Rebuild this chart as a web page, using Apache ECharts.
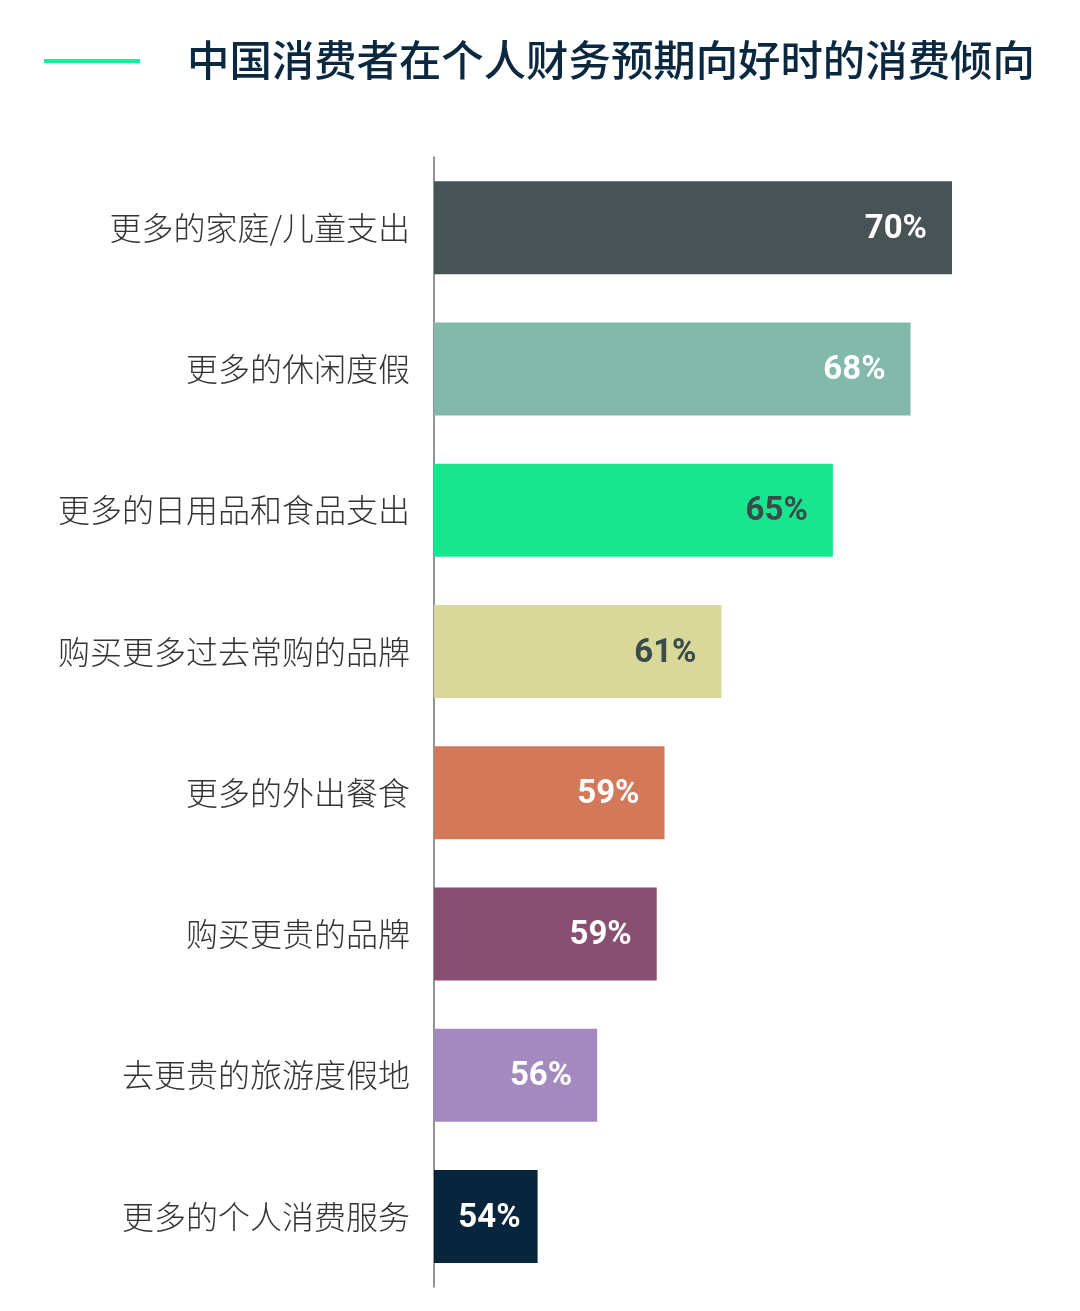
<!DOCTYPE html>
<html>
<head>
<meta charset="utf-8">
<script src="https://cdn.jsdelivr.net/npm/echarts@6/dist/echarts.min.js"></script>
<style>
  html, body { margin: 0; padding: 0; background: #fff; }
  #chart { width: 1080px; height: 1311px; }
</style>
</head>
<body>
<div id="chart"></div>
<script>
// 类别（从上到下）
var categories = ['更多的家庭/儿童支出', '更多的休闲度假', '更多的日用品和食品支出', '购买更多过去常购的品牌',
  '更多的外出餐食', '购买更贵的品牌', '去更贵的旅游度假地', '更多的个人消费服务'];
// 数值（%）
var values = [70, 68.4, 65.4, 61.1, 58.9, 58.6, 56.3, 54];
// 柱子颜色
var barColors = ['#475354', '#82b9aa', '#18e68f', '#d9d89b', '#d4785a', '#894f70', '#a389be', '#07263d'];
// 标签颜色
var labelColors = ['#fff', '#fff', '#3b4a4a', '#3b4a4a', '#fff', '#fff', '#fff', '#fff'];

(function () {
  var myChart = echarts.init(document.getElementById('chart'));
  var option = {
    backgroundColor: '#fff',
    graphic: [
      {
        type: 'rect',
        shape: { x: 44, y: 59, width: 96, height: 4 },
        style: { fill: '#1de9a0' }
      },
      {
        type: 'text',
        left: 187,
        top: 39,
        style: {
          text: '中国消费者在个人财务预期向好时的消费倾向',
          font: '500 42.4px "Noto Sans CJK SC"',
          fill: '#0a2840'
        }
      }
    ],
    grid: {
      left: 434,
      right: 128,
      top: 157,
      bottom: 24
    },
    xAxis: {
      type: 'value',
      min: 50,
      max: 70,
      show: false
    },
    yAxis: {
      type: 'category',
      inverse: true,
      data: categories,
      axisLine: {
        show: true,
        lineStyle: { color: '#6b7272', width: 1.5 }
      },
      axisTick: { show: false },
      axisLabel: {
        margin: 24,
        color: '#333',
        fontSize: 32,
        fontWeight: 300,
        fontFamily: 'Noto Sans CJK SC'
      }
    },
    series: [
      {
        type: 'bar',
        barWidth: 93,
        data: values.map(function (v, i) {
          var item = {
            value: v,
            itemStyle: { color: barColors[i] },
            label: { color: labelColors[i] }
          };
          // 最短的柱子标签离右边更近
          if (i === values.length - 1) item.label.distance = 17;
          return item;
        }),
        label: {
          show: true,
          position: 'insideRight',
          distance: 25,
          fontSize: 33,
          fontWeight: 'bold',
          fontFamily: 'Roboto',
          offset: [0, 2],
          formatter: function (p) {
            return Math.round(p.value) + '%';
          }
        }
      }
    ]
  };
  myChart.setOption(option);
  window.addEventListener('resize', function () {
    myChart.resize();
  });
})();
</script>
</body>
</html>
